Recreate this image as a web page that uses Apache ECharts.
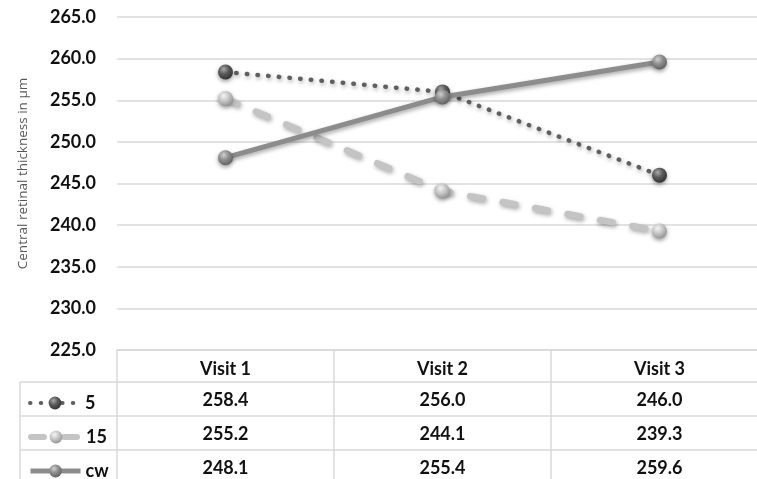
<!DOCTYPE html>
<html><head><meta charset="utf-8">
<script src="https://cdn.jsdelivr.net/npm/echarts@6/dist/echarts.min.js"></script>
<style>html,body{margin:0;padding:0;background:#fff;overflow:hidden}#c{width:770px;height:479px}</style>
</head><body><div id="c"></div>
<script>
const categories = ['Visit 1', 'Visit 2', 'Visit 3'];
const seriesNames = ['5', '15', 'cw'];
const values5 = [258.4, 256.0, 246.0];
const values15 = [255.2, 244.1, 239.3];
const valuesCw = [248.1, 255.4, 259.6];
const yTicks = { min: 225, max: 265, interval: 5 };
const yName = 'Central retinal thickness in µm';

const FONT = 'Lato';
const FS = 18;
const border = '#d9d9d9';
const rows = [values5, values15, valuesCw];

function sphere(hi, mid, lo) {
  return { type: 'radial', x: 0.38, y: 0.32, r: 0.75,
    colorStops: [{ offset: 0, color: hi }, { offset: 0.45, color: mid }, { offset: 1, color: lo }] };
}

const chart = echarts.init(document.getElementById('c'), null, { renderer: 'canvas' });

const rowAxis = (i, offset) => ({
  type: 'category', data: categories, position: 'bottom', offset: offset, gridIndex: 0,
  axisLine: { show: true, lineStyle: { color: border, width: 1.5 } },
  axisTick: { show: true, inside: true, length: 32 + (i > 0 ? 2 : 0), lineStyle: { color: border, width: 1.5 } },
  axisLabel: { show: true, margin: 9, fontFamily: FONT, fontWeight: 'bold', fontSize: FS, color: '#111',
    formatter: (v, idx) => rows[i][idx].toFixed(1) }
});

const lineShadow = { shadowColor: 'rgba(0,0,0,0.35)', shadowBlur: 4, shadowOffsetY: 2, shadowOffsetX: 1 };

const legendItem = (name, top, w) => ({
  data: [name], orient: 'vertical', left: 23, top: top, itemWidth: 50, itemHeight: 16,
  selectedMode: false, itemGap: 0,
  lineStyle: { width: w },
  textStyle: { fontFamily: FONT, fontWeight: 'bold', fontSize: FS, color: '#111' }
});

chart.setOption({
  animation: false,
  grid: { left: 117, top: 17, right: 2, bottom: 129, containLabel: false },
  legend: [legendItem(seriesNames[0], 389, 4), legendItem(seriesNames[1], 423, 6), legendItem(seriesNames[2], 457, 5)],
  xAxis: [
    {
      type: 'category', data: categories, position: 'bottom', gridIndex: 0,
      axisLine: { show: true, lineStyle: { color: border, width: 1.5 } },
      axisTick: { show: false },
      axisLabel: { margin: 10, fontFamily: FONT, fontWeight: 'bold', fontSize: FS, color: '#111' }
    },
    rowAxis(0, 32), rowAxis(1, 66), rowAxis(2, 100),
    {
      type: 'category', data: categories, position: 'bottom', offset: 134, gridIndex: 0,
      axisLine: { show: false },
      axisTick: { show: true, inside: true, length: 34, lineStyle: { color: border, width: 1.5 } },
      axisLabel: { show: false }
    }
  ],
  yAxis: {
    type: 'value', min: yTicks.min, max: yTicks.max, interval: yTicks.interval,
    name: yName, nameLocation: 'middle', nameGap: 87, nameRotate: 90,
    nameTextStyle: { fontFamily: 'Open Sans', fontSize: 13.5, color: '#595959', padding: [0, 0, 0, 20] },
    axisLine: { show: false }, axisTick: { show: false },
    axisLabel: { margin: 21, fontFamily: FONT, fontWeight: 'bold', fontSize: FS, color: '#111',
      formatter: v => v.toFixed(1) },
    splitLine: { lineStyle: { color: border, width: 1.5 } }
  },
  series: [
    { name: seriesNames[0], type: 'line', data: values5, symbol: 'circle', symbolSize: 15, z: 3,
      lineStyle: Object.assign({ color: '#5f5f5f', width: 4.5, type: [0.5, 10.2], cap: 'round' }, lineShadow),
      itemStyle: { color: sphere('#a8a8a8', '#5a5a5a', '#2e2e2e'), shadowColor: 'rgba(0,0,0,0.4)', shadowBlur: 4, shadowOffsetY: 2 } },
    { name: seriesNames[1], type: 'line', data: values15, symbol: 'circle', symbolSize: 15, z: 2,
      lineStyle: Object.assign({ color: '#c4c4c4', width: 6.5, type: [13, 20], cap: 'round' }, lineShadow),
      itemStyle: { color: sphere('#f4f4f4', '#c8c8c8', '#8e8e8e'), shadowColor: 'rgba(0,0,0,0.4)', shadowBlur: 4, shadowOffsetY: 2 } },
    { name: seriesNames[2], type: 'line', data: valuesCw, symbol: 'circle', symbolSize: 15, z: 4,
      lineStyle: Object.assign({ color: '#8c8c8c', width: 5 }, lineShadow),
      itemStyle: { color: sphere('#cfcfcf', '#8e8e8e', '#5c5c5c'), shadowColor: 'rgba(0,0,0,0.4)', shadowBlur: 4, shadowOffsetY: 2 } }
  ],
  graphic: [
    { type: 'line', shape: { x1: 20, y1: 382, x2: 20, y2: 479 }, style: { stroke: border, lineWidth: 1.5 } },
    { type: 'line', shape: { x1: 20, y1: 382, x2: 117, y2: 382 }, style: { stroke: border, lineWidth: 1.5 } },
    { type: 'line', shape: { x1: 20, y1: 416, x2: 117, y2: 416 }, style: { stroke: border, lineWidth: 1.5 } },
    { type: 'line', shape: { x1: 20, y1: 450, x2: 117, y2: 450 }, style: { stroke: border, lineWidth: 1.5 } }
  ]
});
</script></body></html>
